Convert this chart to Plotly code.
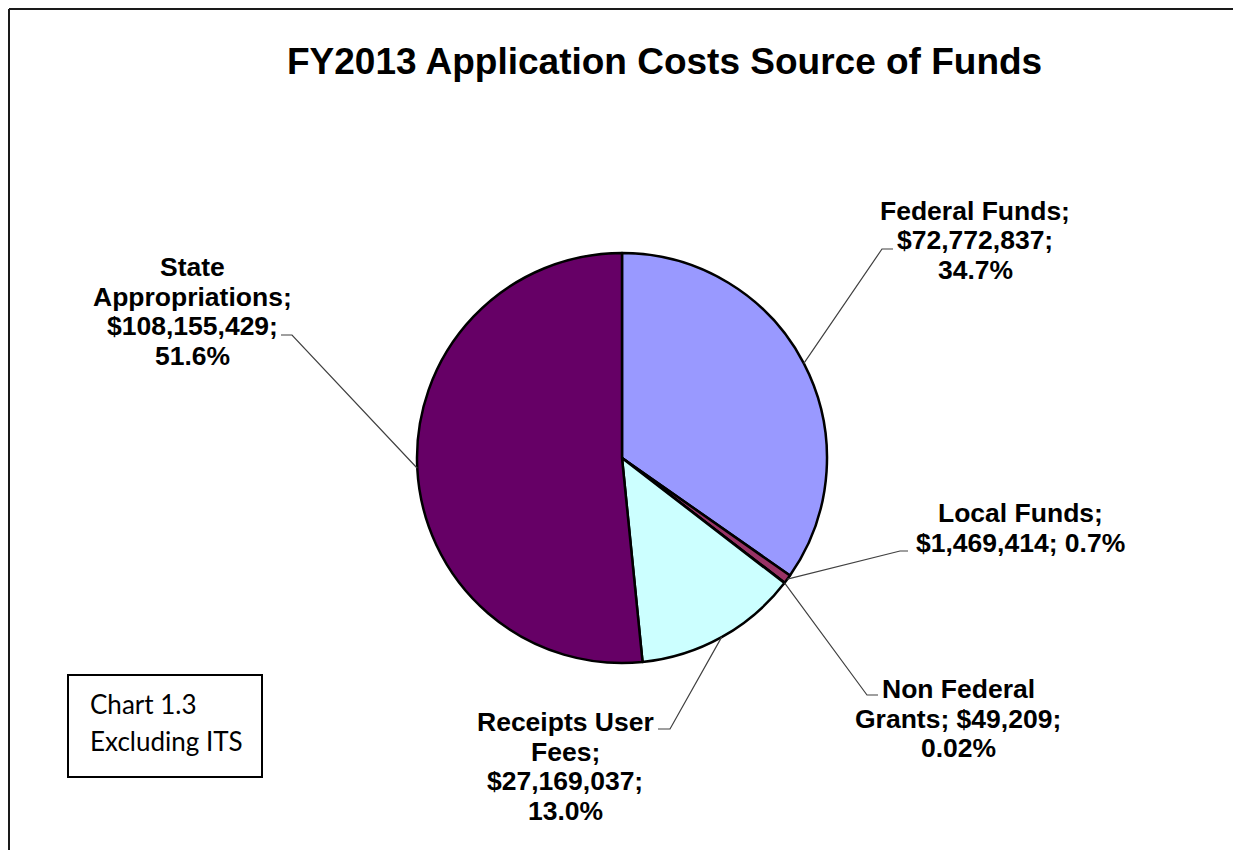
import math
import plotly.graph_objects as go

# ---- data ----
categories = ["Federal Funds", "Local Funds", "Non Federal Grants", "Receipts User Fees", "State Appropriations"]
values = [72772837, 1469414, 49209, 27169037, 108155429]
pct_labels = ["34.7%", "0.7%", "0.02%", "13.0%", "51.6%"]
colors = ["#9999FF", "#993366", "#FFFFCC", "#CCFFFF", "#660066"]
label_lines = [
    ["Federal Funds;", "$72,772,837;", "34.7%"],
    ["Local Funds;", "$1,469,414; 0.7%"],
    ["Non Federal", "Grants; $49,209;", "0.02%"],
    ["Receipts User", "Fees;", "$27,169,037;", "13.0%"],
    ["State", "Appropriations;", "$108,155,429;", "51.6%"],
]

# page is offset by the default 8px body margin
OFF = 8
W, H = 1241 - OFF, 850 - OFF
CX, CY, R = 622, 458, 205  # pie centre / radius in page pixels


def px(x, y):
    return (x - OFF) / W, 1 - (y - OFF) / H


# label line centres (page pixels) and leader elbows
label_cx = [975, 1020, 958, 565, 192]
label_y0 = [211, 513, 689, 722, 267]
LINE_STEP = 29.5
elbows = [
    [(882, 249), (893, 249)],
    [(900, 551), (908, 551)],
    [(867, 695), (878, 695)],
    [(670, 729), (658, 729)],
    [(292, 335), (281, 335)],
]

LABEL_FONT = dict(family="Liberation Sans, Arial, sans-serif", size=26.5, color="black")

fig = go.Figure()
fig.add_trace(go.Pie(
    labels=categories,
    values=values,
    sort=False,
    direction="clockwise",
    rotation=0,
    marker=dict(colors=colors, line=dict(color="black", width=2.5)),
    textinfo="none",
    hoverinfo="label+value+percent",
    showlegend=False,
    domain=dict(x=[(CX - R - OFF) / W, (CX + R - OFF) / W],
                y=[1 - (CY + R - OFF) / H, 1 - (CY - R - OFF) / H]),
))

shapes = []
annotations = []

# frame: only the left and top edges are visible
shapes.append(dict(type="line", xref="paper", yref="paper",
                   x0=1 / W, x1=1 / W, y0=-0.05, y1=1 - 1 / H,
                   line=dict(color="#1a1a1a", width=2)))
shapes.append(dict(type="line", xref="paper", yref="paper",
                   x0=1 / W, x1=1.05, y0=1 - 1 / H, y1=1 - 1 / H,
                   line=dict(color="#1a1a1a", width=2)))

# leader lines from slice mid-angle
total = sum(values)
cum = 0
for i, v in enumerate(values):
    mid = (cum + v / 2) / total * 2 * math.pi
    cum += v
    ex = CX + R * math.sin(mid)
    ey = CY - R * math.cos(mid)
    pts = [(ex, ey)] + elbows[i]
    path = "M " + " L ".join(f"{px(x, y)[0]},{px(x, y)[1]}" for x, y in pts)
    shapes.append(dict(type="path", xref="paper", yref="paper", path=path,
                       line=dict(color="#404040", width=1.2)))
    for j, line in enumerate(label_lines[i]):
        lx, ly = px(label_cx[i], label_y0[i] + j * LINE_STEP)
        annotations.append(dict(x=lx, y=ly, xref="paper", yref="paper", text="<b>" + line + "</b>",
                                showarrow=False, xanchor="center", yanchor="middle",
                                font=LABEL_FONT))

# title
tx, ty = px(664, 62)
annotations.append(dict(x=tx, y=ty, xref="paper", yref="paper",
                        text="<b>FY2013 Application Costs Source of Funds</b>",
                        showarrow=False, xanchor="center", yanchor="middle",
                        font=dict(family="Liberation Sans, Arial, sans-serif", size=37, color="black")))

# note box
bx0, by0 = px(68, 675)
bx1, by1 = px(262, 777)
shapes.append(dict(type="rect", xref="paper", yref="paper", x0=bx0, x1=bx1, y0=by1, y1=by0,
                   line=dict(color="black", width=2), fillcolor="white"))
for txt, yy in [("Chart 1.3", 704), ("Excluding ITS", 741)]:
    ax, ay = px(88, yy)
    annotations.append(dict(x=ax, y=ay, xref="paper", yref="paper", text=txt, showarrow=False,
                            xanchor="left", yanchor="middle",
                            font=dict(family="Lato, Open Sans, sans-serif", size=26, color="black")))

fig.update_layout(
    width=W, height=H,
    margin=dict(l=0, r=0, t=0, b=0),
    paper_bgcolor="white", plot_bgcolor="white",
    shapes=shapes, annotations=annotations,
)

fig.write_html("out.html")
